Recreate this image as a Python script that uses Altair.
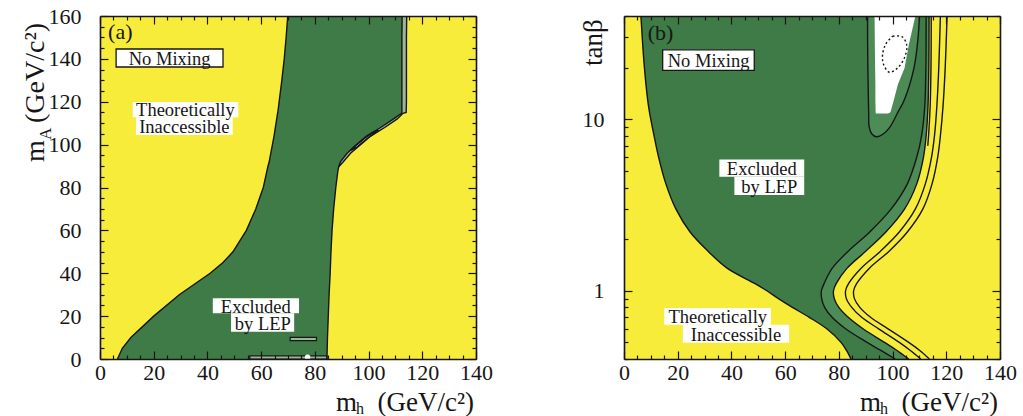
import altair as alt
import pandas as pd

SERIF = "Liberation Serif"
YELLOW = "#F8EC3A"
GREEN = "#3E7B47"
GREEN_LIGHT = "#4E8C57"
STRIP = "#9CB698"
INK = "#161616"
W, H = 376, 343

# ---------------- (a) m_A versus m_h, no mixing ----------------
ma_grid = [0, 5, 10, 20, 30, 40, 45, 50, 60, 70, 80, 88, 89.7, 92, 96, 100, 104, 108, 112, 114.6,
           115, 120, 130, 140, 150, 160]
ma_left = [6.5, 8.3, 11.5, 20, 29.5, 41, 45.8, 49.5, 54.5, 58, 60.8, 62.2, 62.5, 63, 63.6, 64.2,
           64.8, 65.3, 65.8, 66.1, 66.2, 66.7, 67.7, 68.6, 69.3, 69.9]
ma_inner = [84.5, 84.6, 84.7, 85, 85.3, 85.7, 85.85, 86, 86.4, 87, 87.8, 88.6, 88.9, 89.5, 92, 95.5,
            99.2, 104.5, 109.3, 112.3, 112.4, 112.4, 112.4, 112.4, 112.4, 112.5]
ma_outer = [84.5, 84.6, 84.7, 85, 85.3, 85.7, 85.85, 86, 86.4, 87, 87.8, 88.6, 88.9, 90.6, 93.3, 97,
            100.8, 106, 110.7, 112.8, 114.0, 114.1, 114.1, 114.1, 114.1, 114.2]
sliver_ma = [97.5, 99, 101, 103, 105, 106.5]
sliver_lo = [93.3, 94.8, 96.7, 98.6, 100.8, 102.8]
sliver_hi = [93.7, 95.8, 97.7, 99.6, 101.8, 103.4]
island_x0 = [70.8, 55.8]
island_x1 = [80.6, 84.5]
island_y0 = [8.6, 0.0]
island_y1 = [10.1, 1.5]
dot_mh = [77.3]
dot_ma = [0.8]

a_notes = ["No Mixing", "Theoretically", "Inaccessible", "Excluded", "by LEP"]
a_note_x = [25.9, 31.8, 31.4, 58.0, 60.6]
a_note_y = [140.4, 116.4, 108.7, 24.8, 17.0]
a_box_x0 = [6.0, 12.2, 13.4, 42.0, 48.8]
a_box_x1 = [45.8, 51.5, 49.4, 74.1, 72.3]
a_box_y0 = [136.2, 112.8, 104.5, 21.3, 12.7]
a_box_y1 = [144.6, 119.9, 112.8, 28.3, 21.3]
a_box_ruled = [True, False, False, False, False]

# ---------------- (b) tan(beta) versus m_h, no mixing ----------------
tb_grid = [0.4, 0.45, 0.5, 0.6, 0.7, 0.8, 0.9, 1.0, 1.1, 1.35, 1.7, 2.2, 3.0, 4.2, 6, 8, 12, 20, 40]
tb_left = [84.5, 82.8, 80.8, 75.5, 69, 62.7, 57.5, 53.2, 48.8, 38.5, 31.3, 24.6, 19.3, 15.6, 12.9,
           11.2, 9.1, 7.6, 6.3]
tb_line1 = [101, 95.5, 90.5, 82.5, 77.5, 74.7, 73.6, 73.5, 74.5, 77.5, 83.5, 91.5, 99.5, 105.5, 109,
            110.8, 112, 112.4, 112.5]
tb_line2 = [106, 101.5, 97, 89, 83.5, 80, 78.3, 78, 79, 83, 90, 97.5, 104.5, 109, 111.5, 112.5,
            113.2, 113.5, 113.6]
tb_line3 = [110.5, 106.5, 102.5, 94.8, 88.5, 84.8, 82.8, 82.5, 83.6, 88.2, 95.5, 102.5, 108.5,
            112.2, 114.5, 115.6, 116.5, 117.2, 117.8]
tb_line4 = [113.7, 110, 106, 98.3, 91.8, 87.8, 85.8, 85.5, 86.6, 91.3, 98.7, 105.5, 111.3, 114.7,
            116.8, 117.8, 118.8, 119.6, 120.3]
edge_tb = [7, 8, 12, 20, 40]
edge_mh = [113.1, 113.4, 114.0, 114.3, 114.4]
u_tb = [7.9, 8.2, 9, 11, 13, 20, 30, 40]
u_left = [94, 92.3, 91.3, 91.1, 91, 90.8, 90.7, 90.7]
u_right = [94, 96.5, 99, 102, 104.4, 108, 109.5, 110]
white_tb = [10.8, 11, 13, 16, 20, 27, 40]
white_left = [93.8, 93.7, 93.6, 93.6, 93.5, 93.4, 93.3]
white_right = [98.3, 99.2, 100.5, 102, 104.5, 106, 108.5]
loop_mh = [100, 103.5, 105.3, 104.5, 102, 98.8, 96.6, 96.3, 97.5, 100]
loop_tb = [30.5, 30.3, 27, 23, 20, 18.8, 21, 24, 27.5, 30.5]

b_notes = ["No Mixing", "Excluded", "by LEP", "Theoretically", "Inaccessible"]
b_note_x = [31.5, 51.3, 54.1, 34.9, 41.7]
b_note_y = [22.1, 5.19, 4.08, 0.709, 0.561]
b_box_x0 = [14.4, 35.5, 41.1, 15.0, 21.9]
b_box_x1 = [48.5, 67.1, 67.1, 54.7, 61.5]
b_box_y0 = [19.3, 4.62, 3.62, 0.634, 0.497]
b_box_y1 = [25.4, 5.83, 4.62, 0.793, 0.634]
b_box_ruled = [True, False, False, False, False]

MH_TICKS = list(range(0, 141, 5))
MH_LABELS = list(range(0, 141, 20))
MA_TICKS = list(range(0, 161, 5))
MA_LABELS = list(range(0, 161, 20))
TB_TICKS = [0.4, 0.5, 0.6, 0.7, 0.8, 0.9, 1, 2, 3, 4, 5, 6, 7, 8, 9, 10, 20, 30, 40]
TB_LABELS = [1, 10]


def label_axis(orient, values, pad, fmt=None):
    kw = dict(orient=orient, values=values, title=None, grid=False, ticks=False, tickSize=0,
              domain=True, domainColor=INK, domainWidth=1.6, labelFont=SERIF, labelFontSize=22,
              labelColor=INK, labelPadding=pad, labelFlush=False, labelOverlap=False, zindex=3)
    if fmt:
        kw["format"] = fmt
    return alt.Axis(**kw)


def tick_axis(orient, values, major, offset, domain):
    # inward ticks: an axis of the opposite side shifted across the plot
    return alt.Axis(orient=orient, values=values, offset=offset, title=None, grid=False,
                    labels=False, domain=domain, domainColor=INK, domainWidth=1.6, ticks=True,
                    tickColor=INK, tickWidth=1.2,
                    tickSize={"condition": {"test": major, "value": 8}, "value": 4}, zindex=3)


def caption(text, x, y, size, align="left", angle=None):
    kw = dict(text=text, font=SERIF, fontSize=size, align=align, baseline="alphabetic", color=INK)
    if angle:
        kw["angle"] = angle
    return alt.Chart(pd.DataFrame({"k": [0]})).mark_text(**kw).encode(
        x=alt.value(x), y=alt.value(y))


def notes_layers(xs, ys, notes, nx, ny, bx0, bx1, by0, by1, ruled, x_axis, y_axis):
    df = pd.DataFrame({"note": notes, "nx": nx, "ny": ny, "x0": bx0, "x1": bx1,
                       "y0": by0, "y1": by1, "ruled": ruled})
    plain = alt.Chart(df).mark_rect(color="white").encode(
        x=alt.X("x0:Q", scale=xs, axis=x_axis), x2="x1:Q",
        y=alt.Y("y0:Q", scale=ys, axis=y_axis), y2="y1:Q")
    ruled_box = alt.Chart(df).transform_filter("datum.ruled").mark_rect(
        fill="white", stroke=INK, strokeWidth=1.3).encode(
        x=alt.X("x0:Q", scale=xs, axis=None), x2="x1:Q",
        y=alt.Y("y0:Q", scale=ys, axis=None), y2="y1:Q")
    text = alt.Chart(df).mark_text(font=SERIF, fontSize=18.5, color=INK, baseline="middle",
                                   dy=1).encode(
        x=alt.X("nx:Q", scale=xs, axis=None), y=alt.Y("ny:Q", scale=ys, axis=None),
        text="note:N")
    return [plain, ruled_box, text]


def axis_titles(y_pieces):
    return [
        caption("m", 236, 395, 27),
        caption("h", 256, 398, 16),
        caption("(GeV/c\u00b2)", 374, 395, 27, align="right"),
    ] + y_pieces


xs = alt.Scale(domain=[0, 140], nice=False, zero=False)
MH_MAJOR = "datum.value % 20 === 0"

# ---------------- panel (a) ----------------
ya = alt.Scale(domain=[0, 160], nice=False, zero=False)
MA_MAJOR = "datum.value % 20 === 0"

a_df = pd.DataFrame({"mA": ma_grid, "left": ma_left, "inner": ma_inner, "outer": ma_outer})
a_fill = alt.Chart(a_df).mark_area(orient="horizontal", color=GREEN, clip=True).encode(
    y=alt.Y("mA:Q", scale=ya, axis=label_axis("left", MA_LABELS, 19)),
    x=alt.X("left:Q", scale=xs, axis=label_axis("bottom", MH_LABELS, 3)),
    x2="inner:Q")
a_strip = alt.Chart(a_df).mark_area(orient="horizontal", color=STRIP, clip=True).encode(
    y=alt.Y("mA:Q", scale=ya, axis=None), x=alt.X("inner:Q", scale=xs, axis=None), x2="outer:Q")
sl_df = pd.DataFrame({"mA": sliver_ma, "lo": sliver_lo, "hi": sliver_hi})
a_sliver = alt.Chart(sl_df).mark_area(orient="horizontal", color="white", clip=True).encode(
    y=alt.Y("mA:Q", scale=ya, axis=None), x=alt.X("lo:Q", scale=xs, axis=None), x2="hi:Q")
is_df = pd.DataFrame({"x0": island_x0, "x1": island_x1, "y0": island_y0, "y1": island_y1})
a_islands = alt.Chart(is_df).mark_rect(fill=STRIP, stroke=INK, strokeWidth=1.2, clip=True).encode(
    x=alt.X("x0:Q", scale=xs, axis=None), x2="x1:Q",
    y=alt.Y("y0:Q", scale=ya, axis=None), y2="y1:Q")
a_dot = alt.Chart(pd.DataFrame({"mh": dot_mh, "mA": dot_ma})).mark_circle(
    color="white", size=30, opacity=1, clip=True).encode(
    x=alt.X("mh:Q", scale=xs, axis=None), y=alt.Y("mA:Q", scale=ya, axis=None))

corner = ma_grid.index(89.7)
a_lines_df = pd.concat([
    pd.DataFrame({"curve": "left", "mh": ma_left, "mA": ma_grid, "i": range(len(ma_grid))}),
    pd.DataFrame({"curve": "outer", "mh": ma_outer, "mA": ma_grid, "i": range(len(ma_grid))}),
    pd.DataFrame({"curve": "inner", "mh": ma_inner[corner:], "mA": ma_grid[corner:],
                  "i": range(len(ma_grid) - corner)}),
    pd.DataFrame({"curve": "sliver", "mh": sliver_lo + sliver_hi[::-1] + sliver_lo[:1],
                  "mA": sliver_ma + sliver_ma[::-1] + sliver_ma[:1],
                  "i": range(2 * len(sliver_ma) + 1)}),
])
a_lines = alt.Chart(a_lines_df).mark_line(color=INK, strokeWidth=1.4, clip=True).encode(
    x=alt.X("mh:Q", scale=xs, axis=tick_axis("top", MH_TICKS, MH_MAJOR, -H, False)),
    y=alt.Y("mA:Q", scale=ya, axis=tick_axis("right", MA_TICKS, MA_MAJOR, -W, False)),
    detail="curve:N", order="i:Q")

a_notes_layers = notes_layers(
    xs, ya, a_notes, a_note_x, a_note_y, a_box_x0, a_box_x1, a_box_y0, a_box_y1, a_box_ruled,
    tick_axis("bottom", MH_TICKS, MH_MAJOR, -H, True),
    tick_axis("left", MA_TICKS, MA_MAJOR, -W, True))
a_tag = alt.Chart(pd.DataFrame({"mh": [3.0], "mA": [152.5], "t": ["(a)"]})).mark_text(
    font=SERIF, fontSize=22, align="left", baseline="middle", color=INK).encode(
    x=alt.X("mh:Q", scale=xs, axis=None), y=alt.Y("mA:Q", scale=ya, axis=None), text="t:N")

a_titles = axis_titles([
    caption("m", -56, 146, 28, angle=270),
    caption("A", -49, 124, 17, angle=270),
    caption("(GeV/c\u00b2)", -56, 107, 28, angle=270),
])

panel_a = alt.layer(a_fill, a_strip, a_sliver, a_islands, a_dot, a_lines, *a_notes_layers,
                    a_tag, *a_titles).resolve_axis(x="independent", y="independent").properties(
    width=W, height=H)

# ---------------- panel (b) ----------------
yb = alt.Scale(type="log", domain=[0.4, 40], nice=False)
TB_MAJOR = "datum.value === 1 || datum.value === 10"
CURVE = "catmull-rom"

b_df = pd.DataFrame({"tb": tb_grid, "left": tb_left, "l1": tb_line1, "l2": tb_line2})
b_fill = alt.Chart(b_df).mark_area(orient="horizontal", color=GREEN, interpolate=CURVE,
                                   clip=True).encode(
    y=alt.Y("tb:Q", scale=yb, axis=label_axis("left", TB_LABELS, 20, fmt="d")),
    x=alt.X("left:Q", scale=xs, axis=label_axis("bottom", MH_LABELS, 3)),
    x2="l1:Q")
b_band = alt.Chart(b_df).mark_area(orient="horizontal", color=GREEN_LIGHT, interpolate=CURVE,
                                   clip=True).encode(
    y=alt.Y("tb:Q", scale=yb, axis=None), x=alt.X("l1:Q", scale=xs, axis=None), x2="l2:Q")
u_df = pd.DataFrame({"tb": u_tb, "lo": u_left, "hi": u_right})
b_u = alt.Chart(u_df).mark_area(orient="horizontal", color=GREEN_LIGHT, interpolate=CURVE,
                                clip=True).encode(
    y=alt.Y("tb:Q", scale=yb, axis=None), x=alt.X("lo:Q", scale=xs, axis=None), x2="hi:Q")
w_df = pd.DataFrame({"tb": white_tb, "lo": white_left, "hi": white_right})
b_white = alt.Chart(w_df).mark_area(orient="horizontal", color="white", clip=True).encode(
    y=alt.Y("tb:Q", scale=yb, axis=None), x=alt.X("lo:Q", scale=xs, axis=None), x2="hi:Q")

n = len(tb_grid)
b_lines_df = pd.concat([
    pd.DataFrame({"curve": "left", "mh": tb_left, "tb": tb_grid, "i": range(n)}),
    pd.DataFrame({"curve": "l1", "mh": tb_line1, "tb": tb_grid, "i": range(n)}),
    pd.DataFrame({"curve": "l2", "mh": tb_line2, "tb": tb_grid, "i": range(n)}),
    pd.DataFrame({"curve": "l3", "mh": tb_line3, "tb": tb_grid, "i": range(n)}),
    pd.DataFrame({"curve": "l4", "mh": tb_line4, "tb": tb_grid, "i": range(n)}),
    pd.DataFrame({"curve": "edge", "mh": edge_mh, "tb": edge_tb, "i": range(len(edge_tb))}),
    pd.DataFrame({"curve": "u", "mh": u_left[::-1] + u_right[1:], "tb": u_tb[::-1] + u_tb[1:],
                  "i": range(2 * len(u_tb) - 1)}),
])
b_lines = alt.Chart(b_lines_df).mark_line(color=INK, strokeWidth=1.4, interpolate=CURVE,
                                          clip=True).encode(
    x=alt.X("mh:Q", scale=xs, axis=tick_axis("top", MH_TICKS, MH_MAJOR, -H, False)),
    y=alt.Y("tb:Q", scale=yb, axis=tick_axis("right", TB_TICKS, TB_MAJOR, -W, False)),
    detail="curve:N", order="i:Q")
loop_df = pd.DataFrame({"mh": loop_mh, "tb": loop_tb, "i": range(len(loop_mh))})
b_loop = alt.Chart(loop_df).mark_line(color=INK, strokeWidth=1.4, strokeDash=[2, 2.5],
                                      interpolate=CURVE, clip=True).encode(
    x=alt.X("mh:Q", scale=xs, axis=None), y=alt.Y("tb:Q", scale=yb, axis=None), order="i:Q")

b_notes_layers = notes_layers(
    xs, yb, b_notes, b_note_x, b_note_y, b_box_x0, b_box_x1, b_box_y0, b_box_y1, b_box_ruled,
    tick_axis("bottom", MH_TICKS, MH_MAJOR, -H, True),
    tick_axis("left", TB_TICKS, TB_MAJOR, -W, True))
b_tag = alt.Chart(pd.DataFrame({"mh": [8.8], "tb": [31.8], "t": ["(b)"]})).mark_text(
    font=SERIF, fontSize=22, align="left", baseline="middle", color=INK).encode(
    x=alt.X("mh:Q", scale=xs, axis=None), y=alt.Y("tb:Q", scale=yb, axis=None), text="t:N")

b_titles = axis_titles([caption("tan\u03b2", -22, 50, 27, angle=270)])

panel_b = alt.layer(b_fill, b_band, b_u, b_white, b_lines, b_loop, *b_notes_layers, b_tag,
                    *b_titles).resolve_axis(x="independent", y="independent").properties(
    width=W, height=H)

chart = alt.hconcat(panel_a, panel_b, spacing=148, bounds="flush").configure_view(
    fill=YELLOW, strokeWidth=0).properties(
    padding={"left": 21, "top": 5, "right": 0, "bottom": 0})

chart.save("out.html", embed_options={"renderer": "svg", "actions": False})
